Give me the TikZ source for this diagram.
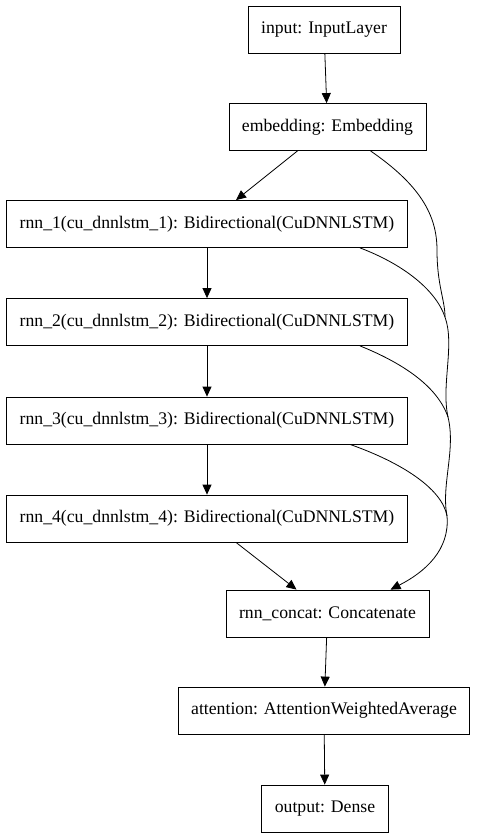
\documentclass[tikz,border=0pt]{standalone}
\usepackage{fontspec}
\setmainfont{Liberation Serif}
\usetikzlibrary{arrows.meta,calc}

\begin{document}
\begin{tikzpicture}[x=1pt,y=-1pt,>={Triangle[length=10pt,width=9pt]},line width=0.8pt,
  layer/.style={draw,minimum height=47pt,inner xsep=13pt,font=\fontsize{17.7}{21}\selectfont}]
  \useasboundingbox (0,0) rectangle (480,839);
  % layers of the model
  \node[layer] (input) at (324,30) {input: InputLayer};
  \node[layer] (embedding) at (327.5,127) {embedding: Embedding};
  \foreach \i/\y in {1/224,2/322,3/420.5,4/518.5} {
    \node[layer] (rnn\i) at (207,\y) {rnn\_\i(cu\_dnnlstm\_\i): Bidirectional(CuDNNLSTM)};
  }
  \node[layer] (concat) at (327.5,613.5) {rnn\_concat: Concatenate};
  \node[layer] (attention) at (324,710.5) {attention: AttentionWeightedAverage};
  \node[layer] (output) at (325,808.5) {output: Dense};
  % straight edges
  \draw[->] (input) -- (embedding);
  \draw[->] ([xshift=-30]embedding.south) -- ([xshift=29]rnn1.north);
  \foreach \a/\b in {1/2,2/3,3/4} {
    \draw[->] (rnn\a) -- (rnn\b);
  }
  \draw[->] ([xshift=29]rnn4.south) -- ([xshift=-31]concat.north);
  \draw[->] (concat) -- (attention);
  \draw[->] (attention) -- (output);
  % merged skip edges into the concat layer
  \coordinate (j1) at (445,317);
  \coordinate (j2) at (448,417);
  \coordinate (j3) at (447,516);
  \draw ([xshift=43]embedding.south) .. controls (420,185) and (437,215) .. (437,250)
    .. controls (437,285) and (445,300) .. (j1);
  \draw ([xshift=153]rnn1.south) .. controls (400,263) and (435,288) .. (j1);
  \draw (j1) .. controls (455,345) and (441,385) .. (j2);
  \draw ([xshift=153]rnn2.south) .. controls (400,362) and (437,385) .. (j2);
  \draw (j2) .. controls (456,450) and (441,485) .. (j3);
  \draw ([xshift=143]rnn3.south) .. controls (400,462) and (442,488) .. (j3);
  \draw[->] (j3) .. controls (450,550) and (425,572) .. ([xshift=63]concat.north);
\end{tikzpicture}
\end{document}
